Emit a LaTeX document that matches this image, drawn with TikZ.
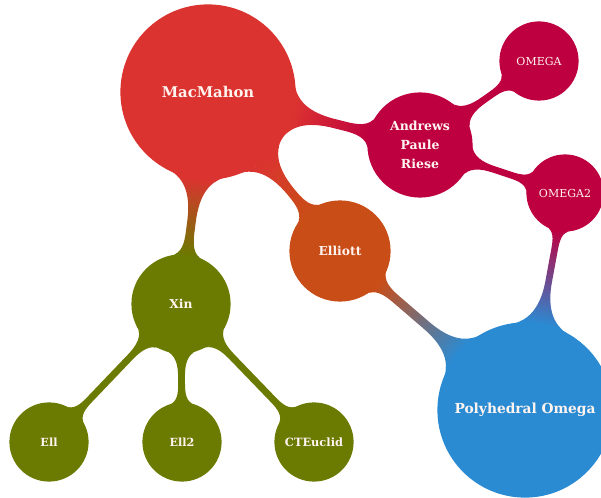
\documentclass[tikz,border=0pt]{standalone}
\usepackage{fontspec}
\setmainfont{DejaVu Serif}
\usetikzlibrary{mindmap}
\definecolor{cmac}{RGB}{219,51,48}
\definecolor{capr}{RGB}{190,0,64}
\definecolor{cell}{RGB}{201,77,23}
\definecolor{cpoly}{RGB}{42,139,211}
\definecolor{cxin}{RGB}{107,122,0}
\definecolor{ctext}{RGB}{255,244,240}
\begin{document}
\begin{tikzpicture}[x=1pt,y=-1pt,mindmap,
  bubble/.style={concept,circle,inner sep=0pt,text=ctext,align=center},
  bar/.style={line width=8.5pt},
  thinbar/.style={line width=7pt}]
\clip (0,0) rectangle (601,497);
\node[bubble,concept color=cmac,minimum size=174pt,text width=150pt,font=\bfseries\fontsize{14.8}{17}\selectfont] (mac) at (208,92) {MacMahon};
\node[bubble,concept color=capr,minimum size=104pt,text width=80pt,font=\bfseries\fontsize{12.5}{19}\selectfont] (apr) at (420,145) {Andrews\\Paule\\Riese};
\node[bubble,concept color=capr,minimum size=78pt,text width=60pt,font=\fontsize{11}{13}\selectfont] (om) at (539,61) {OMEGA};
\node[bubble,concept color=capr,minimum size=76pt,text width=60pt,font=\fontsize{11}{13}\selectfont] (om2) at (565,193) {OMEGA2};
\node[bubble,concept color=cell,minimum size=100pt,text width=70pt,font=\bfseries\fontsize{12.3}{14}\selectfont] (ell) at (340,251) {Elliott};
\node[bubble,concept color=cpoly,minimum size=174pt,text width=150pt,font=\bfseries\fontsize{13.8}{16}\selectfont] (poly) at (525,410) {Polyhedral Omega};
\node[bubble,concept color=cxin,minimum size=98pt,text width=70pt,font=\bfseries\fontsize{12.3}{14}\selectfont] (xin) at (181,304) {Xin};
\node[bubble,concept color=cxin,minimum size=78pt,text width=60pt,font=\bfseries\fontsize{11.2}{13}\selectfont] (e1) at (49,442) {Ell};
\node[bubble,concept color=cxin,minimum size=78pt,text width=60pt,font=\bfseries\fontsize{11.2}{13}\selectfont] (e2) at (182,442) {Ell2};
\node[bubble,concept color=cxin,minimum size=78pt,text width=64pt,font=\bfseries\fontsize{11.4}{13}\selectfont] (cte) at (314,442) {CTEuclid};
\path[bar] (mac) to[circle connection bar switch color=from (cmac) to (capr)] (apr);
\path[bar] (mac) to[circle connection bar switch color=from (cmac) to (cell)] (ell);
\path[bar] (mac) to[circle connection bar switch color=from (cmac) to (cxin)] (xin);
\path[thinbar] (apr) to[circle connection bar switch color=from (capr) to (capr)] (om);
\path[thinbar] (apr) to[circle connection bar switch color=from (capr) to (capr)] (om2);
\path[bar] (om2) to[circle connection bar switch color=from (capr) to (cpoly)] (poly);
\path[thinbar] (ell) to[circle connection bar switch color=from (cell) to (cpoly)] (poly);
\path[thinbar] (xin) to[circle connection bar switch color=from (cxin) to (cxin)] (e1);
\path[thinbar] (xin) to[circle connection bar switch color=from (cxin) to (cxin)] (e2);
\path[thinbar] (xin) to[circle connection bar switch color=from (cxin) to (cxin)] (cte);
\end{tikzpicture}
\end{document}
